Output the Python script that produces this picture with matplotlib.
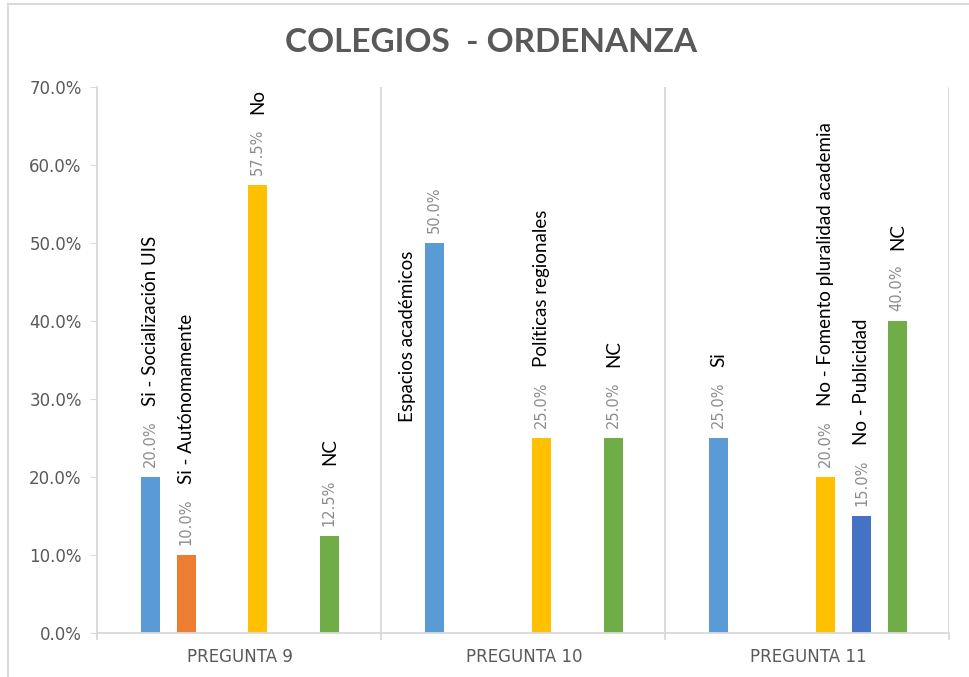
import numpy as np
import matplotlib.pyplot as plt
from matplotlib.lines import Line2D
from matplotlib.ticker import FuncFormatter

# grupos (preguntas)
groups = ['PREGUNTA 9', 'PREGUNTA 10', 'PREGUNTA 11']

# una serie por posicion dentro del grupo (paleta Office)
colors = ['#5B9BD5', '#ED7D31', '#A5A5A5', '#FFC000', '#4472C4', '#70AD47']
s_blue = [20.0, 50.0, 25.0]
s_orange = [10.0, np.nan, np.nan]
s_gray = [np.nan, np.nan, np.nan]
s_yellow = [57.5, 25.0, 20.0]
s_darkblue = [np.nan, np.nan, 15.0]
s_green = [12.5, 25.0, 40.0]

n_blue = ['Si - Socialización UIS', 'Espacios académicos', 'Si']
n_orange = ['Si - Autónomamente', '', '']
n_gray = ['', '', '']
n_yellow = ['No', 'Políticas regionales', 'No - Fomento pluralidad academia']
n_darkblue = ['', '', 'No - Publicidad']
n_green = ['NC', 'NC', 'NC']

values = [s_blue, s_orange, s_gray, s_yellow, s_darkblue, s_green]
names = [n_blue, n_orange, n_gray, n_yellow, n_darkblue, n_green]

fig = plt.figure(figsize=(9.69, 6.77), dpi=100)
ax = fig.add_axes([97 / 969, 44 / 677, 852 / 969, 546 / 677])

centers = np.arange(len(groups)) + 0.503
spacing = 0.126
width = 0.067
name_font = ['Lato', 'DejaVu Sans']

for k, (vals, labs, color) in enumerate(zip(values, names, colors)):
    pos = centers + (k - 2.5) * spacing
    for xi, v, name in zip(pos, vals, labs):
        if np.isnan(v):
            continue
        ax.bar(xi, v, width, color=color)
        ax.annotate('{:.1f}%'.format(v), (xi, v), xytext=(0, 7), textcoords='offset points',
                    rotation=90, ha='center', va='bottom', fontsize=10.5, color='#8C8C8C')
        if name == 'Espacios académicos':
            # etiqueta movida a mano a la izquierda de la barra
            ax.text(xi - 0.095, 27.0, name, rotation=90, ha='center', va='bottom',
                    fontsize=13.5, color='black', family=name_font)
        elif name:
            ax.annotate(name, (xi, v), xytext=(0, 51), textcoords='offset points',
                        rotation=90, ha='center', va='bottom', fontsize=13.5,
                        color='black', family=name_font)

# separadores entre grupos
for b in [1, 2, 3]:
    ax.axvline(b, color='#D9D9D9', lw=1.3, zorder=0)

ax.set_xlim(0, 3)
ax.set_ylim(0, 70)
ax.set_yticks(np.arange(0, 71, 10))
ax.yaxis.set_major_formatter(FuncFormatter(lambda v, p: '{:.1f}%'.format(v)))
ax.tick_params(axis='y', length=5, color='#D9D9D9', labelcolor='#595959', labelsize=12, pad=6)

ax.set_xticks([0, 1, 2, 3])
ax.set_xticklabels([])
ax.set_xticks(centers, minor=True)
ax.set_xticklabels(groups, minor=True)
ax.tick_params(axis='x', which='major', length=5, width=1.3, color='#D9D9D9')
ax.tick_params(axis='x', which='minor', length=0, pad=11, labelcolor='#595959', labelsize=12)

for s in ['top', 'right']:
    ax.spines[s].set_visible(False)
for s in ['left', 'bottom']:
    ax.spines[s].set_color('#D9D9D9')
    ax.spines[s].set_linewidth(1.3)

fig.text(491 / 969, 1 - 42 / 677, 'COLEGIOS  - ORDENANZA', ha='center', va='center',
         fontsize=24, fontweight='bold', color='#595959', family=name_font)

# marco exterior
fig.add_artist(Line2D([8 / 969, 8 / 969], [0, 1 - 4 / 677], transform=fig.transFigure,
                      color='#D9D9D9', lw=1.5))
fig.add_artist(Line2D([8 / 969, 1], [1 - 4 / 677, 1 - 4 / 677], transform=fig.transFigure,
                      color='#D9D9D9', lw=1.5))

fig.savefig('out.png', dpi=100)
